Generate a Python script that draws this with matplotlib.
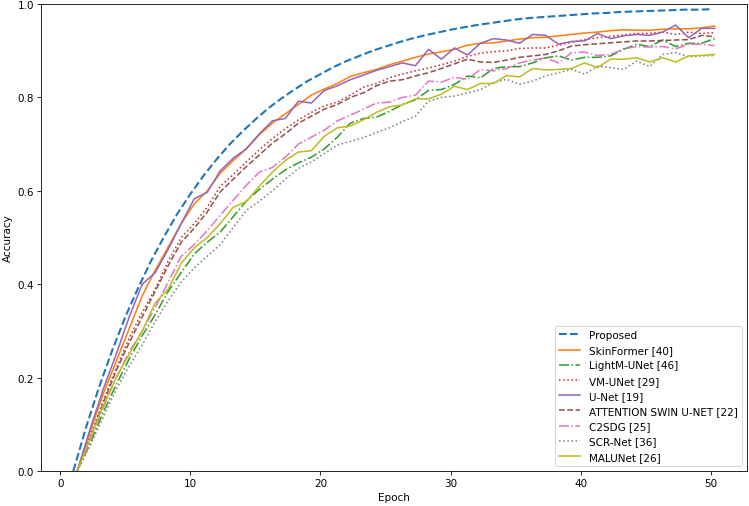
import numpy as np
import matplotlib
matplotlib.use("Agg")
import matplotlib.pyplot as plt

epochs = np.arange(1, 51)

proposed = [0.000, 0.095, 0.181, 0.259, 0.330, 0.393, 0.451, 0.503, 0.551, 0.593,
            0.632, 0.667, 0.699, 0.727, 0.753, 0.777, 0.798, 0.817, 0.835, 0.850,
            0.865, 0.878, 0.889, 0.900, 0.909, 0.918, 0.926, 0.933, 0.939, 0.945,
            0.950, 0.955, 0.959, 0.963, 0.967, 0.970, 0.972, 0.974, 0.976, 0.978,
            0.980, 0.981, 0.983, 0.984, 0.985, 0.986, 0.987, 0.988, 0.988, 0.989]

skinformer = [0.000, 0.085, 0.165, 0.235, 0.305, 0.375, 0.430, 0.480, 0.530, 0.572,
              0.600, 0.638, 0.665, 0.690, 0.720, 0.745, 0.765, 0.785, 0.805, 0.818,
              0.830, 0.845, 0.853, 0.860, 0.870, 0.878, 0.886, 0.893, 0.898, 0.903,
              0.912, 0.916, 0.917, 0.921, 0.925, 0.928, 0.929, 0.932, 0.935, 0.938,
              0.940, 0.943, 0.945, 0.944, 0.944, 0.946, 0.947, 0.947, 0.949, 0.953]

lightm = [0.000, 0.060, 0.125, 0.185, 0.240, 0.290, 0.335, 0.385, 0.425, 0.465,
          0.490, 0.512, 0.545, 0.578, 0.603, 0.625, 0.645, 0.660, 0.672, 0.690,
          0.715, 0.745, 0.755, 0.758, 0.770, 0.785, 0.795, 0.815, 0.817, 0.828,
          0.846, 0.842, 0.862, 0.866, 0.866, 0.874, 0.885, 0.889, 0.880, 0.886,
          0.886, 0.889, 0.903, 0.914, 0.909, 0.923, 0.909, 0.916, 0.916, 0.926]

vmunet = [0.000, 0.075, 0.150, 0.220, 0.285, 0.340, 0.390, 0.450, 0.500, 0.530,
          0.565, 0.610, 0.635, 0.662, 0.688, 0.712, 0.733, 0.752, 0.768, 0.782,
          0.790, 0.805, 0.822, 0.830, 0.842, 0.850, 0.857, 0.863, 0.870, 0.878,
          0.888, 0.895, 0.898, 0.900, 0.905, 0.906, 0.906, 0.912, 0.918, 0.924,
          0.928, 0.931, 0.934, 0.937, 0.937, 0.940, 0.935, 0.940, 0.937, 0.939]

unet = [0.000, 0.090, 0.175, 0.250, 0.330, 0.400, 0.425, 0.475, 0.530, 0.583,
        0.597, 0.643, 0.670, 0.690, 0.722, 0.750, 0.755, 0.792, 0.788, 0.815,
        0.825, 0.838, 0.848, 0.858, 0.866, 0.874, 0.868, 0.903, 0.882, 0.906,
        0.891, 0.916, 0.926, 0.923, 0.916, 0.935, 0.933, 0.914, 0.920, 0.921,
        0.937, 0.926, 0.932, 0.935, 0.933, 0.940, 0.955, 0.928, 0.948, 0.948]

attn_swin = [0.000, 0.070, 0.145, 0.215, 0.275, 0.330, 0.385, 0.440, 0.490, 0.520,
             0.555, 0.598, 0.625, 0.652, 0.677, 0.702, 0.722, 0.745, 0.760, 0.775,
             0.785, 0.800, 0.810, 0.825, 0.835, 0.838, 0.846, 0.853, 0.862, 0.872,
             0.882, 0.876, 0.875, 0.880, 0.886, 0.889, 0.892, 0.900, 0.910, 0.913,
             0.915, 0.917, 0.919, 0.921, 0.921, 0.922, 0.923, 0.924, 0.933, 0.930]

c2sdg = [0.000, 0.065, 0.135, 0.200, 0.255, 0.300, 0.350, 0.405, 0.460, 0.485,
         0.515, 0.548, 0.580, 0.612, 0.640, 0.650, 0.672, 0.700, 0.715, 0.730,
         0.750, 0.762, 0.775, 0.788, 0.790, 0.800, 0.805, 0.835, 0.833, 0.843,
         0.839, 0.860, 0.857, 0.862, 0.874, 0.880, 0.885, 0.874, 0.896, 0.897,
         0.890, 0.892, 0.904, 0.909, 0.908, 0.909, 0.904, 0.914, 0.914, 0.911]

scrnet = [0.000, 0.055, 0.115, 0.175, 0.225, 0.270, 0.320, 0.365, 0.405, 0.435,
          0.460, 0.485, 0.522, 0.558, 0.578, 0.600, 0.625, 0.648, 0.662, 0.680,
          0.698, 0.706, 0.714, 0.725, 0.735, 0.748, 0.760, 0.792, 0.800, 0.803,
          0.810, 0.817, 0.832, 0.839, 0.828, 0.835, 0.846, 0.853, 0.860, 0.850,
          0.867, 0.864, 0.860, 0.878, 0.866, 0.892, 0.896, 0.887, 0.889, 0.890]

malunet = [0.000, 0.070, 0.140, 0.200, 0.250, 0.300, 0.360, 0.390, 0.445, 0.478,
           0.500, 0.530, 0.565, 0.577, 0.610, 0.640, 0.665, 0.683, 0.686, 0.717,
           0.735, 0.739, 0.752, 0.768, 0.780, 0.784, 0.797, 0.797, 0.807, 0.824,
           0.817, 0.830, 0.830, 0.847, 0.844, 0.862, 0.859, 0.860, 0.862, 0.874,
           0.864, 0.882, 0.882, 0.885, 0.876, 0.885, 0.876, 0.889, 0.890, 0.892]

baselines = [
    ("SkinFormer [40]", skinformer, "C1", "-"),
    ("LightM-UNet [46]", lightm, "C2", "-."),
    ("VM-UNet [29]", vmunet, "C3", ":"),
    ("U-Net [19]", unet, "C4", "-"),
    ("ATTENTION SWIN U-NET [22]", attn_swin, "C5", "--"),
    ("C2SDG [25]", c2sdg, "C6", "-."),
    ("SCR-Net [36]", scrnet, "C7", ":"),
    ("MALUNet [26]", malunet, "C8", "-"),
]

# drawn at 10in wide and 74.9 dpi so text matches the downscaled original
fig = plt.figure(figsize=(10, 6.769), dpi=74.9)
ax = fig.add_axes([0.055, 0.069, 0.942, 0.921])

ax.plot(epochs, proposed, "--", color="C0", linewidth=2, label="Proposed")
for name, vals, col, ls in baselines:
    ax.plot(epochs + 0.3, vals, ls, color=col, linewidth=1.5, label=name)

ax.set_ylim(0, 1.0)
ax.set_xlabel("Epoch")
ax.set_ylabel("Accuracy")
ax.legend(loc="lower right")

fig.savefig("out.png", dpi=74.9)
